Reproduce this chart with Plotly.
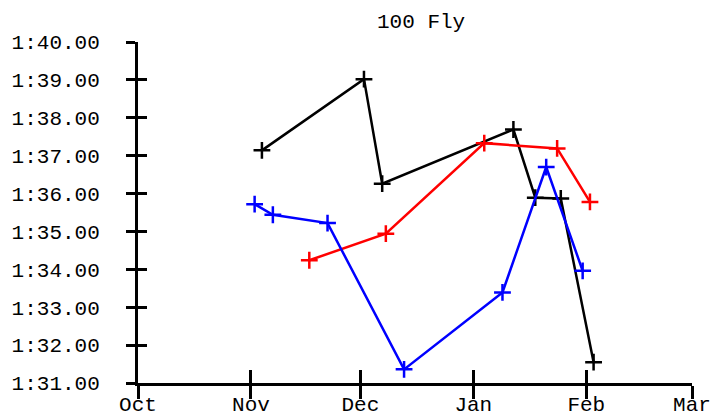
import plotly.graph_objects as go

# Swim times in seconds (1:xx.xx -> 60 + xx.xx)
black_dates = ["2011-11-04", "2011-12-02", "2011-12-07", "2012-01-12", "2012-01-18", "2012-01-25", "2012-02-03"]
black_times = [97.14, 99.02, 96.26, 97.69, 95.89, 95.87, 91.55]

red_dates = ["2011-11-17", "2011-12-08", "2012-01-04", "2012-01-24", "2012-02-02"]
red_times = [94.24, 94.94, 97.33, 97.19, 95.78]

blue_dates = ["2011-11-02", "2011-11-07", "2011-11-22", "2011-12-13", "2012-01-09", "2012-01-21", "2012-01-31"]
blue_times = [95.72, 95.44, 95.22, 91.36, 93.39, 96.70, 93.96]

y_tick_vals = [91, 92, 93, 94, 95, 96, 97, 98, 99, 100]
y_tick_text = ["1:31.00", "1:32.00", "1:33.00", "1:34.00", "1:35.00",
               "1:36.00", "1:37.00", "1:38.00", "1:39.00", "1:40.00"]
x_range = ["2011-10-01", "2012-03-01"]

FONT = "Courier New, Liberation Mono, monospace"
FS = 21

fig = go.Figure()
for dates, times, color in [(black_dates, black_times, "#000000"),
                            (red_dates, red_times, "#ff0000"),
                            (blue_dates, blue_times, "#0000ff")]:
    fig.add_trace(go.Scatter(
        x=dates, y=times, mode="lines+markers",
        line=dict(color=color, width=2.5),
        marker=dict(symbol="cross-thin", size=12, line=dict(color=color, width=2.5)),
        showlegend=False, hoverinfo="skip"))

# invisible trace on overlay axes (for crossing ticks)
fig.add_trace(go.Scatter(x=x_range, y=[91, 100], xaxis="x2", yaxis="y2",
                         mode="markers", marker=dict(opacity=0), showlegend=False,
                         hoverinfo="skip"))

common_x = dict(type="date", range=x_range, tick0="2011-10-01", dtick="M1",
                showgrid=False, zeroline=False, ticklen=13, tickwidth=2.5,
                tickcolor="#000", automargin=False)
common_y = dict(range=[91, 100], tickvals=y_tick_vals, showgrid=False,
                zeroline=False, ticklen=9, tickwidth=2.5, tickcolor="#000",
                automargin=False)

fig.update_layout(
    width=711, height=417,
    margin=dict(l=138, r=19, t=42, b=34, autoexpand=False),
    paper_bgcolor="white", plot_bgcolor="white",
    font=dict(family=FONT, size=FS, color="#000"),
    title=dict(text="100 Fly", x=0.511, xref="paper", xanchor="center",
               y=0.95, yref="container", yanchor="middle",
               font=dict(family=FONT, size=FS, color="#000")),
    xaxis=dict(**common_x, ticks="outside", tickformat="%b", showline=True,
               linecolor="#000", linewidth=3, ticklabelstandoff=-13,
               tickfont=dict(family=FONT, size=FS, color="#000")),
    xaxis2=dict(**common_x, ticks="inside", overlaying="x", showticklabels=False,
                showline=False),
    yaxis=dict(**common_y, ticks="outside", ticktext=y_tick_text, showline=True,
               linecolor="#000", linewidth=3, ticklabelstandoff=22,
               tickfont=dict(family=FONT, size=FS, color="#000")),
    yaxis2=dict(**common_y, ticks="inside", overlaying="y", showticklabels=False,
                showline=False),
    hovermode=False,
)

fig.write_html("out.html", config={"displayModeBar": False},
               post_script="document.body.style.margin='0';"
                           "document.documentElement.style.overflow='hidden';")
